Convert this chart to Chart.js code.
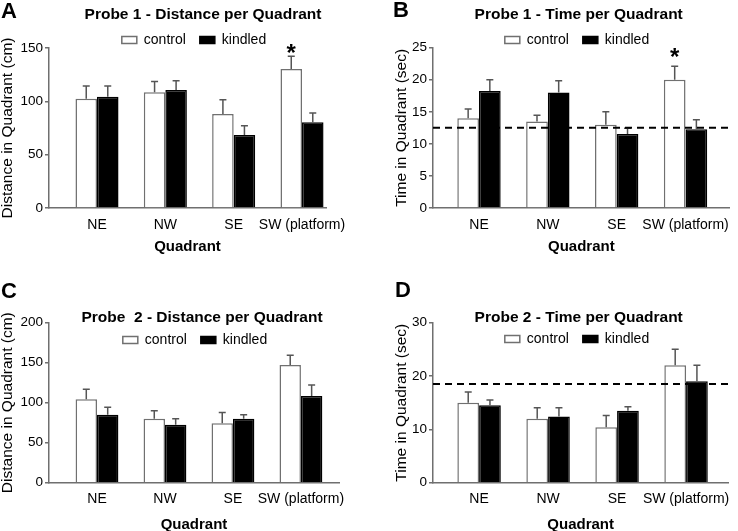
<!DOCTYPE html>
<html>
<head>
<meta charset="utf-8">
<script src="https://cdn.jsdelivr.net/npm/chart.js@4.4.1/dist/chart.umd.min.js"></script>
<style>
  html, body { margin: 0; padding: 0; background: #fff; }
  #wrap { position: relative; width: 738px; height: 531px; overflow: hidden; background: #fff; }
  .panel { position: absolute; }
  canvas { display: block; }
</style>
</head>
<body>
<div id="wrap">
  <div class="panel" style="left:0px;top:0px;width:369px;height:260px"><canvas id="cA" width="369" height="260"></canvas></div>
  <div class="panel" style="left:369px;top:0px;width:369px;height:260px"><canvas id="cB" width="369" height="260"></canvas></div>
  <div class="panel" style="left:0px;top:260px;width:369px;height:271px"><canvas id="cC" width="369" height="271"></canvas></div>
  <div class="panel" style="left:369px;top:260px;width:369px;height:271px"><canvas id="cD" width="369" height="271"></canvas></div>
</div>
<script>
// ---------------- DATA ----------------
const quadrants = ['NE', 'NW', 'SE', 'SW (platform)'];
const seriesNames = ['control', 'kindled'];
const xAxisTitle = 'Quadrant';

// Panel A: Probe 1 - Distance per Quadrant (cm)
const probe1DistControl    = [102.5, 108.4, 88.1, 130.3];
const probe1DistControlErr = [11.9, 10.3, 13.5, 11.9];
const probe1DistKindled    = [104.4, 110.6, 68.4, 80.3];
const probe1DistKindledErr = [10.0, 8.8, 8.8, 8.8];
const probe1DistSig        = ['', '', '', '*'];
const probe1DistTicks      = [0, 50, 100, 150];

// Panel B: Probe 1 - Time per Quadrant (sec)
const probe1TimeControl    = [14.0, 13.5, 13.0, 20.0];
const probe1TimeControlErr = [1.45, 0.95, 2.0, 2.1];
const probe1TimeKindled    = [18.25, 18.0, 11.55, 12.3];
const probe1TimeKindledErr = [1.75, 1.85, 0.9, 1.45];
const probe1TimeSig        = ['', '', '', '*'];
const probe1TimeChance     = 12.5;
const probe1TimeTicks      = [0, 5, 10, 15, 20, 25];

// Panel C: Probe 2 - Distance per Quadrant (cm)
const probe2DistControl    = [104.2, 80.0, 74.2, 147.1];
const probe2DistControlErr = [12.5, 10.0, 13.7, 12.1];
const probe2DistKindled    = [85.0, 72.5, 80.0, 108.3];
const probe2DistKindledErr = [9.2, 7.5, 5.0, 13.8];
const probe2DistTicks      = [0, 50, 100, 150, 200];

// Panel D: Probe 2 - Time per Quadrant (sec)
const probe2TimeControl    = [15.0, 12.0, 10.4, 22.0];
const probe2TimeControlErr = [2.0, 2.05, 2.2, 3.0];
const probe2TimeKindled    = [14.5, 12.4, 13.5, 19.0];
const probe2TimeKindledErr = [1.0, 1.65, 0.75, 3.0];
const probe2TimeChance     = 18.5;
const probe2TimeTicks      = [0, 10, 20, 30];

// ---------------- STYLE ----------------
Chart.defaults.font.family = "'Liberation Sans', Arial, Helvetica, sans-serif";
Chart.defaults.color = '#000';
Chart.defaults.animation = false;

const AXIS_GRAY = '#6f6f6f';
const BAR_EDGE = '#707070';
const ERR_COLOR = '#555555';
const LEG_PAD = 14, LEG_FONT = 14;

function makePanel(canvasId, p) {
  const decor = {
    id: 'decor_' + canvasId,
    afterLayout(chart) {
      const lg = chart.legend;
      if (!lg) return;
      const h = lg.height;
      const dx = p.legendX - (lg.left + lg.right) / 2;
      lg.left += dx; lg.right += dx;
      lg.top = p.legendY - LEG_PAD - LEG_FONT / 2;
      lg.bottom = lg.top + h;
    },
    afterDatasetsDraw(chart) {
      const ctx = chart.ctx;
      const ys = chart.scales.y;
      const area = chart.chartArea;
      ctx.save();
      // error bars (upper only)
      [p.control, p.kindled].forEach((vals, di) => {
        const errs = di === 0 ? p.controlErr : p.kindledErr;
        const meta = chart.getDatasetMeta(di);
        meta.data.forEach((el, i) => {
          const top = ys.getPixelForValue(vals[i] + errs[i]);
          ctx.strokeStyle = ERR_COLOR;
          ctx.lineWidth = 1.5;
          ctx.setLineDash([]);
          ctx.beginPath();
          ctx.moveTo(el.x, el.y);
          ctx.lineTo(el.x, top);
          ctx.moveTo(el.x - 3.5, top);
          ctx.lineTo(el.x + 3.5, top);
          ctx.stroke();
        });
      });
      // chance line
      if (p.chance != null) {
        const yy = ys.getPixelForValue(p.chance);
        ctx.strokeStyle = '#000';
        ctx.lineWidth = 2;
        ctx.setLineDash([7, 5]);
        ctx.beginPath();
        ctx.moveTo(area.left, yy);
        ctx.lineTo(area.right, yy);
        ctx.stroke();
        ctx.setLineDash([]);
      }
      // significance markers on control bars
      if (p.sig) {
        const meta = chart.getDatasetMeta(0);
        ctx.fillStyle = '#000';
        ctx.font = "bold 24px 'Liberation Sans', Arial, sans-serif";
        ctx.textAlign = 'center';
        ctx.textBaseline = 'alphabetic';
        p.sig.forEach((s, i) => {
          if (!s) return;
          const el = meta.data[i];
          const top = ys.getPixelForValue(p.control[i] + p.controlErr[i]);
          ctx.fillText(s, el.x, top + p.sigOffset);
        });
      }
      ctx.restore();
    },
    afterDraw(chart) {
      const ctx = chart.ctx;
      ctx.save();
      ctx.fillStyle = '#000';
      ctx.textBaseline = 'middle';
      ctx.textAlign = 'center';
      ctx.font = "bold 15.5px 'Liberation Sans', Arial, sans-serif";
      ctx.fillText(p.title, p.titleX, p.titleY);
      ctx.textAlign = 'left';
      ctx.textBaseline = 'alphabetic';
      ctx.font = "bold 22px 'Liberation Sans', Arial, sans-serif";
      ctx.fillText(p.letter, p.letterX, p.letterY);
      ctx.restore();
    }
  };

  const mk = (vals) => quadrants.map((q, i) => ({ x: i + 1, y: vals[i] }));

  return new Chart(document.getElementById(canvasId), {
    type: 'bar',
    data: {
      datasets: [
        { label: seriesNames[0], data: mk(p.control), backgroundColor: '#ffffff', borderColor: BAR_EDGE, borderWidth: 1.5, borderSkipped: 'start' },
        { label: seriesNames[1], data: mk(p.kindled), backgroundColor: '#000000', borderColor: '#000000', borderWidth: 1.5, borderSkipped: 'start' }
      ]
    },
    options: {
      responsive: false,
      animation: false,
      categoryPercentage: 0.63,
      barPercentage: 1.0,
      layout: { padding: p.pad },
      plugins: {
        title: { display: false },
        tooltip: { enabled: false },
        legend: {
          display: true,
          position: 'top',
          labels: {
            boxWidth: 15, boxHeight: 7, padding: LEG_PAD,
            font: { size: LEG_FONT }, color: '#000'
          }
        }
      },
      scales: {
        x: {
          type: 'linear',
          offset: false,
          bounds: 'data',
          min: p.xMin, max: p.xMax,
          afterBuildTicks: (s) => { s.ticks = quadrants.map((q, i) => ({ value: i + 1 })); },
          afterFit: (s) => { s.height = p.xAxisH; },
          grid: { display: false, drawTicks: false, offset: false },
          border: { display: true, color: AXIS_GRAY, width: 1.5 },
          ticks: {
            autoSkip: false, maxRotation: 0, minRotation: 0, padding: p.xTickPad,
            font: { size: 14 }, color: '#000',
            callback: (v) => quadrants[Math.round(v) - 1] || ''
          },
          title: {
            display: true, text: xAxisTitle, color: '#000',
            font: { size: 15, weight: 'bold' }, padding: { top: 0, bottom: p.xTitlePad }
          }
        },
        y: {
          min: p.ticks[0], max: p.ticks[p.ticks.length - 1],
          afterBuildTicks: (s) => { s.ticks = p.ticks.map(v => ({ value: v })); },
          afterFit: (s) => { s.width = p.yAxisW; },
          grid: { display: true, drawOnChartArea: false, drawTicks: true, tickLength: 4, color: AXIS_GRAY, lineWidth: 1.5 },
          border: { display: true, color: AXIS_GRAY, width: 1.5 },
          ticks: { padding: 2, font: { size: 13.5 }, color: '#000' },
          title: {
            display: true, text: p.yTitle, color: '#000',
            font: { size: 15.5 }, padding: { top: p.yTitlePad, bottom: 0 }
          }
        }
      }
    },
    plugins: [decor]
  });
}

// Panel A
makePanel('cA', {
  control: probe1DistControl, controlErr: probe1DistControlErr,
  kindled: probe1DistKindled, kindledErr: probe1DistKindledErr,
  sig: probe1DistSig, sigOffset: 4.6, ticks: probe1DistTicks,
  title: 'Probe 1 - Distance per Quadrant', titleX: 203, titleY: 15,
  letter: 'A', letterX: 1, letterY: 18,
  legendX: 194, legendY: 40,
  yTitle: 'Distance in Quadrant (cm)', yTitlePad: -1.5,
  pad: { left: 0, right: 43, top: 10, bottom: 0 },
  yAxisW: 49, xAxisH: 52, xTickPad: 8.6, xTitlePad: 4,
  xMin: 0.2976, xMax: 4.351
});

// Panel B
makePanel('cB', {
  control: probe1TimeControl, controlErr: probe1TimeControlErr,
  kindled: probe1TimeKindled, kindledErr: probe1TimeKindledErr,
  sig: probe1TimeSig, sigOffset: -1.3, chance: probe1TimeChance, ticks: probe1TimeTicks,
  title: 'Probe 1 - Time per Quadrant', titleX: 209.7, titleY: 15,
  letter: 'B', letterX: 24, letterY: 17,
  legendX: 208, legendY: 40,
  yTitle: 'Time in Quadrant (sec)', yTitlePad: 1.5,
  pad: { left: 22, right: 2, top: 9.7, bottom: 0 },
  yAxisW: 42, xAxisH: 52, xTickPad: 9, xTitlePad: 3.7,
  xMin: 0.332, xMax: 4.64
});

// Panel C
makePanel('cC', {
  control: probe2DistControl, controlErr: probe2DistControlErr,
  kindled: probe2DistKindled, kindledErr: probe2DistKindledErr,
  ticks: probe2DistTicks,
  title: 'Probe  2 - Distance per Quadrant', titleX: 202, titleY: 57.3,
  letter: 'C', letterX: 1, letterY: 38,
  legendX: 195, legendY: 80,
  yTitle: 'Distance in Quadrant (cm)', yTitlePad: -1.5,
  pad: { left: 0, right: 30, top: 24.7, bottom: 0 },
  yAxisW: 49, xAxisH: 48.3, xTickPad: 8.2, xTitlePad: -3,
  xMin: 0.294, xMax: 4.56
});

// Panel D
makePanel('cD', {
  control: probe2TimeControl, controlErr: probe2TimeControlErr,
  kindled: probe2TimeKindled, kindledErr: probe2TimeKindledErr,
  chance: probe2TimeChance, ticks: probe2TimeTicks,
  title: 'Probe 2 - Time per Quadrant', titleX: 209.7, titleY: 57.3,
  letter: 'D', letterX: 26, letterY: 37,
  legendX: 208, legendY: 79,
  yTitle: 'Time in Quadrant (sec)', yTitlePad: 1.5,
  pad: { left: 22, right: 4, top: 24.7, bottom: 0 },
  yAxisW: 42, xAxisH: 48.3, xTickPad: 8.2, xTitlePad: -3,
  xMin: 0.332, xMax: 4.612
});
</script>
</body>
</html>
